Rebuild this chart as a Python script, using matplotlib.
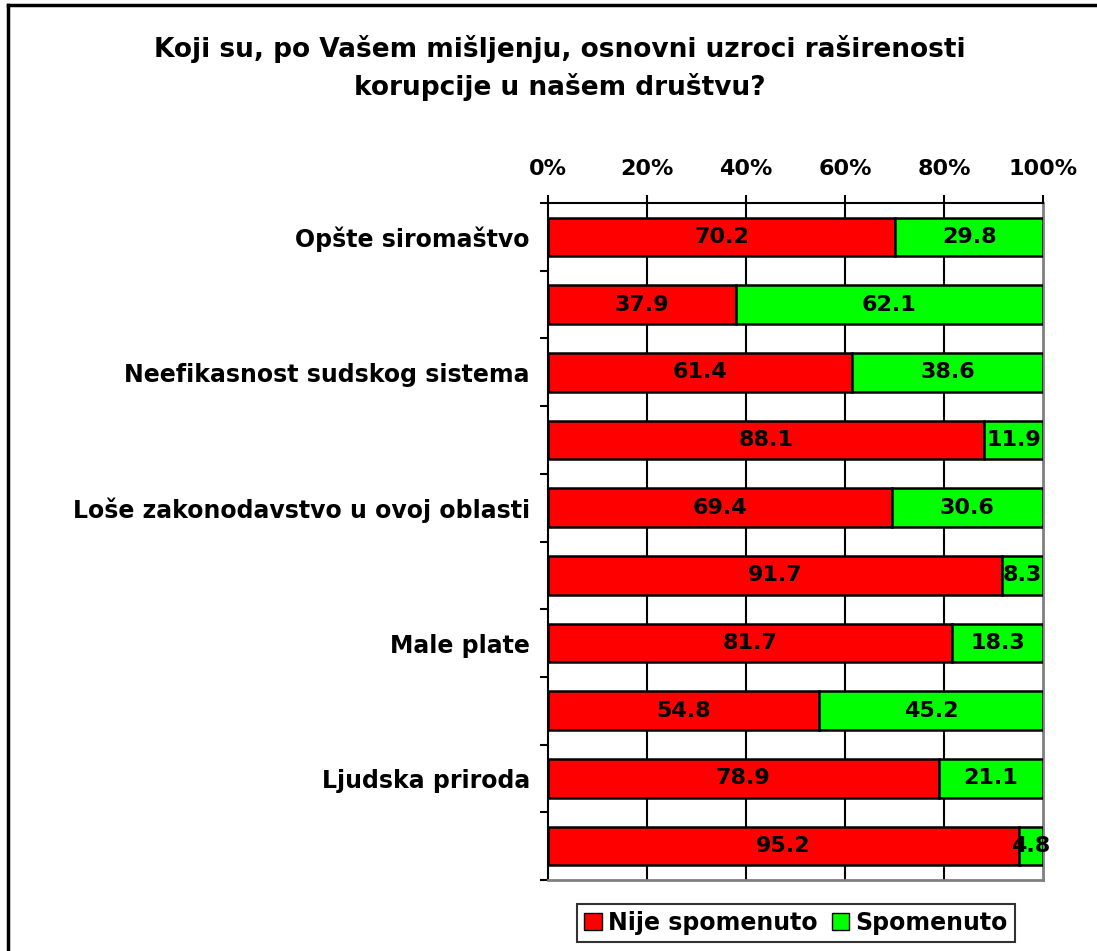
import numpy as np
import matplotlib.pyplot as plt
from matplotlib.patches import Patch
from matplotlib.lines import Line2D

kategorije = ['Opšte siromaštvo', '', 'Neefikasnost sudskog sistema', '',
              'Loše zakonodavstvo u ovoj oblasti', '', 'Male plate', '',
              'Ljudska priroda', '']
nije_spomenuto = [70.2, 37.9, 61.4, 88.1, 69.4, 91.7, 81.7, 54.8, 78.9, 95.2]
spomenuto = [29.8, 62.1, 38.6, 11.9, 30.6, 8.3, 18.3, 45.2, 21.1, 4.8]
naslov = 'Koji su, po Vašem mišljenju, osnovni uzroci raširenosti\nkorupcije u našem društvu?'

plt.rcParams['font.family'] = 'DejaVu Sans'
plt.rcParams['font.weight'] = 'bold'

fig = plt.figure(figsize=(10.97, 9.51), dpi=100)
W, H = 1097, 951

# okvir grafikona (desna i donja ivica su van slike)
fig.add_artist(Line2D([8 / W, 8 / W], [0, 1 - 5 / H], transform=fig.transFigure, color='black', lw=2.5))
fig.add_artist(Line2D([8 / W, 1], [1 - 5 / H, 1 - 5 / H], transform=fig.transFigure, color='black', lw=2.5))

ax = fig.add_axes([548 / W, 1 - 880 / H, (1043 - 548) / W, (880 - 203) / H])

n = len(kategorije)
y = np.arange(n) + 0.5
ax.barh(y, nije_spomenuto, height=0.57, color='#FF0000', edgecolor='black', linewidth=1.8, zorder=3)
ax.barh(y, spomenuto, left=nije_spomenuto, height=0.57, color='#00FF00', edgecolor='black', linewidth=1.8, zorder=3)

for i in range(n):
    ax.text(nije_spomenuto[i] / 2, y[i], f'{nije_spomenuto[i]:.1f}', ha='center', va='center',
            fontsize=16, fontweight='bold', zorder=5)
    ax.text(nije_spomenuto[i] + spomenuto[i] / 2, y[i], f'{spomenuto[i]:.1f}', ha='center', va='center',
            fontsize=16, fontweight='bold', zorder=5, clip_on=False)

ax.set_xlim(0, 100)
ax.set_ylim(n, 0)

ax.xaxis.tick_top()
ax.set_xticks(np.arange(0, 101, 20))
ax.set_xticklabels([f'{v}%' for v in range(0, 101, 20)], fontsize=16, fontweight='bold')
ax.tick_params(axis='x', length=6, width=1.5, pad=11)
for v in range(20, 100, 20):
    ax.axvline(v, color='black', lw=1.5, zorder=1)

ax.set_yticks(np.arange(0, n + 1))
ax.set_yticklabels([])
ax.set_yticks(y, minor=True)
ax.set_yticklabels(kategorije, minor=True, fontsize=17, fontweight='bold')
ax.tick_params(axis='y', which='major', length=6, width=1.5)
ax.tick_params(axis='y', which='minor', length=0, pad=13)

ax.spines['left'].set_linewidth(1.5)
ax.spines['top'].set_linewidth(1.5)
ax.spines['right'].set_color('#808080')
ax.spines['right'].set_linewidth(2)
ax.spines['bottom'].set_color('#808080')
ax.spines['bottom'].set_linewidth(2)

fig.text(560 / W, 1 - 68 / H, naslov, ha='center', va='center', fontsize=19, fontweight='bold',
         linespacing=1.42)

handles = [Patch(facecolor='#FF0000', edgecolor='black', label='Nije spomenuto'),
           Patch(facecolor='#00FF00', edgecolor='black', label='Spomenuto')]
leg = fig.legend(handles=handles, loc='center', bbox_to_anchor=(796 / W, 1 - 923 / H), ncol=2,
                 frameon=True, fancybox=False, edgecolor='black',
                 handlelength=0.75, handleheight=0.75, handletextpad=0.25, columnspacing=0.6,
                 borderpad=0.3, prop={'weight': 'bold', 'size': 17})
leg.get_frame().set_linewidth(1.5)

fig.savefig('out.png', dpi=100)
